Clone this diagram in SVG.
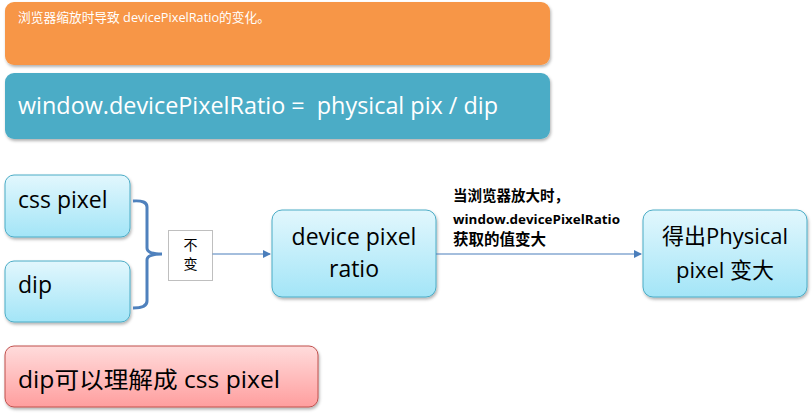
<svg xmlns="http://www.w3.org/2000/svg" width="812" height="414" viewBox="0 0 812 414">
<defs>
<linearGradient id="gc" x1="0" y1="0" x2="0" y2="1"><stop offset="0" stop-color="#E2F7FD"/><stop offset="1" stop-color="#A3E5F7"/></linearGradient>
<linearGradient id="gr" x1="0" y1="0" x2="0" y2="1"><stop offset="0" stop-color="#FFDCDC"/><stop offset="1" stop-color="#FF9E9E"/></linearGradient>
<filter id="sh" x="-10%" y="-10%" width="120%" height="130%"><feDropShadow dx="1" dy="2" stdDeviation="1.5" flood-color="#000" flood-opacity="0.3"/></filter>
<marker id="ar" markerWidth="8" markerHeight="8" refX="7" refY="4" orient="auto" markerUnits="userSpaceOnUse"><path d="M0,0 L8,4 L0,8 Z" fill="#4A7EBB"/></marker>
<style>
.t{font-family:"Open Sans","Liberation Sans","Noto Sans CJK SC",sans-serif}
.big{font-size:23px;fill:#000}
.cy{fill:url(#gc);stroke:#4BACC6;stroke-width:1;filter:url(#sh)}
.con{stroke:#4A7EBB;stroke-width:1.2;fill:none}
</style>
</defs>
<g id="top-note">
<rect x="5" y="2" width="545" height="63" rx="9" fill="#F79646" filter="url(#sh)"/>
<text class="t" x="18" y="22" font-size="13" fill="#fff" textLength="252" lengthAdjust="spacingAndGlyphs">浏览器缩放时导致 devicePixelRatio的变化。</text>
</g>
<g id="formula">
<rect x="5" y="73" width="545" height="66" rx="9" fill="#4BACC6" filter="url(#sh)"/>
<text class="t" x="18" y="114" font-size="23" fill="#fff" textLength="480" lengthAdjust="spacingAndGlyphs" xml:space="preserve">window.devicePixelRatio =  physical pix / dip</text>
</g>
<g id="css-pixel">
<rect class="cy" x="5" y="175" width="125" height="62" rx="9"/>
<text class="t big" x="18" y="208">css pixel</text>
</g>
<g id="dip">
<rect class="cy" x="5" y="261" width="125" height="61" rx="9"/>
<text class="t big" x="18" y="293">dip</text>
</g>
<g id="bu-bian">
<rect x="168.5" y="230.5" width="44" height="50" fill="#fff" stroke="#BFBFBF"/>
<text class="t" x="190.5" y="250" font-size="14" text-anchor="middle">不</text>
<text class="t" x="190.5" y="269" font-size="14" text-anchor="middle">变</text>
</g>
<g id="device-pixel-ratio">
<rect class="cy" x="272" y="210" width="164" height="87" rx="10"/>
<text class="t big" x="354" y="245" text-anchor="middle">device pixel</text>
<text class="t big" x="354" y="277" text-anchor="middle">ratio</text>
</g>
<g id="physical-pixel">
<rect class="cy" x="643" y="210" width="164" height="87" rx="10"/>
<text class="t" x="725" y="244" font-size="22" text-anchor="middle">得出Physical</text>
<text class="t" x="725" y="278" font-size="22" text-anchor="middle">pixel 变大</text>
</g>
<g id="dip-note">
<rect x="5" y="346" width="313" height="61" rx="9" fill="url(#gr)" stroke="#C0504D" stroke-width="1" filter="url(#sh)"/>
<text class="t big" x="18" y="388" textLength="262" lengthAdjust="spacingAndGlyphs">dip可以理解成 css pixel</text>
</g>
<g id="connectors">
<path d="M133,201 Q147,200 147,207 L147,248 Q147,254 162,254 Q147,254 147,260 L147,301 Q147,308 133,308" stroke="#4F81BD" stroke-width="3" fill="none"/>
<line class="con" x1="212.5" y1="254" x2="270" y2="254" marker-end="url(#ar)"/>
<line class="con" x1="436" y1="254" x2="641" y2="254" marker-end="url(#ar)"/>
<text class="t" x="453" y="201" font-size="14.5" font-weight="bold">当浏览器放大时，</text>
<text class="t" x="453" y="224" font-size="13" font-weight="bold" textLength="167" lengthAdjust="spacingAndGlyphs">window.devicePixelRatio</text>
<text class="t" x="453" y="245" font-size="15.5" font-weight="bold">获取的值变大</text>
</g>
</svg>
